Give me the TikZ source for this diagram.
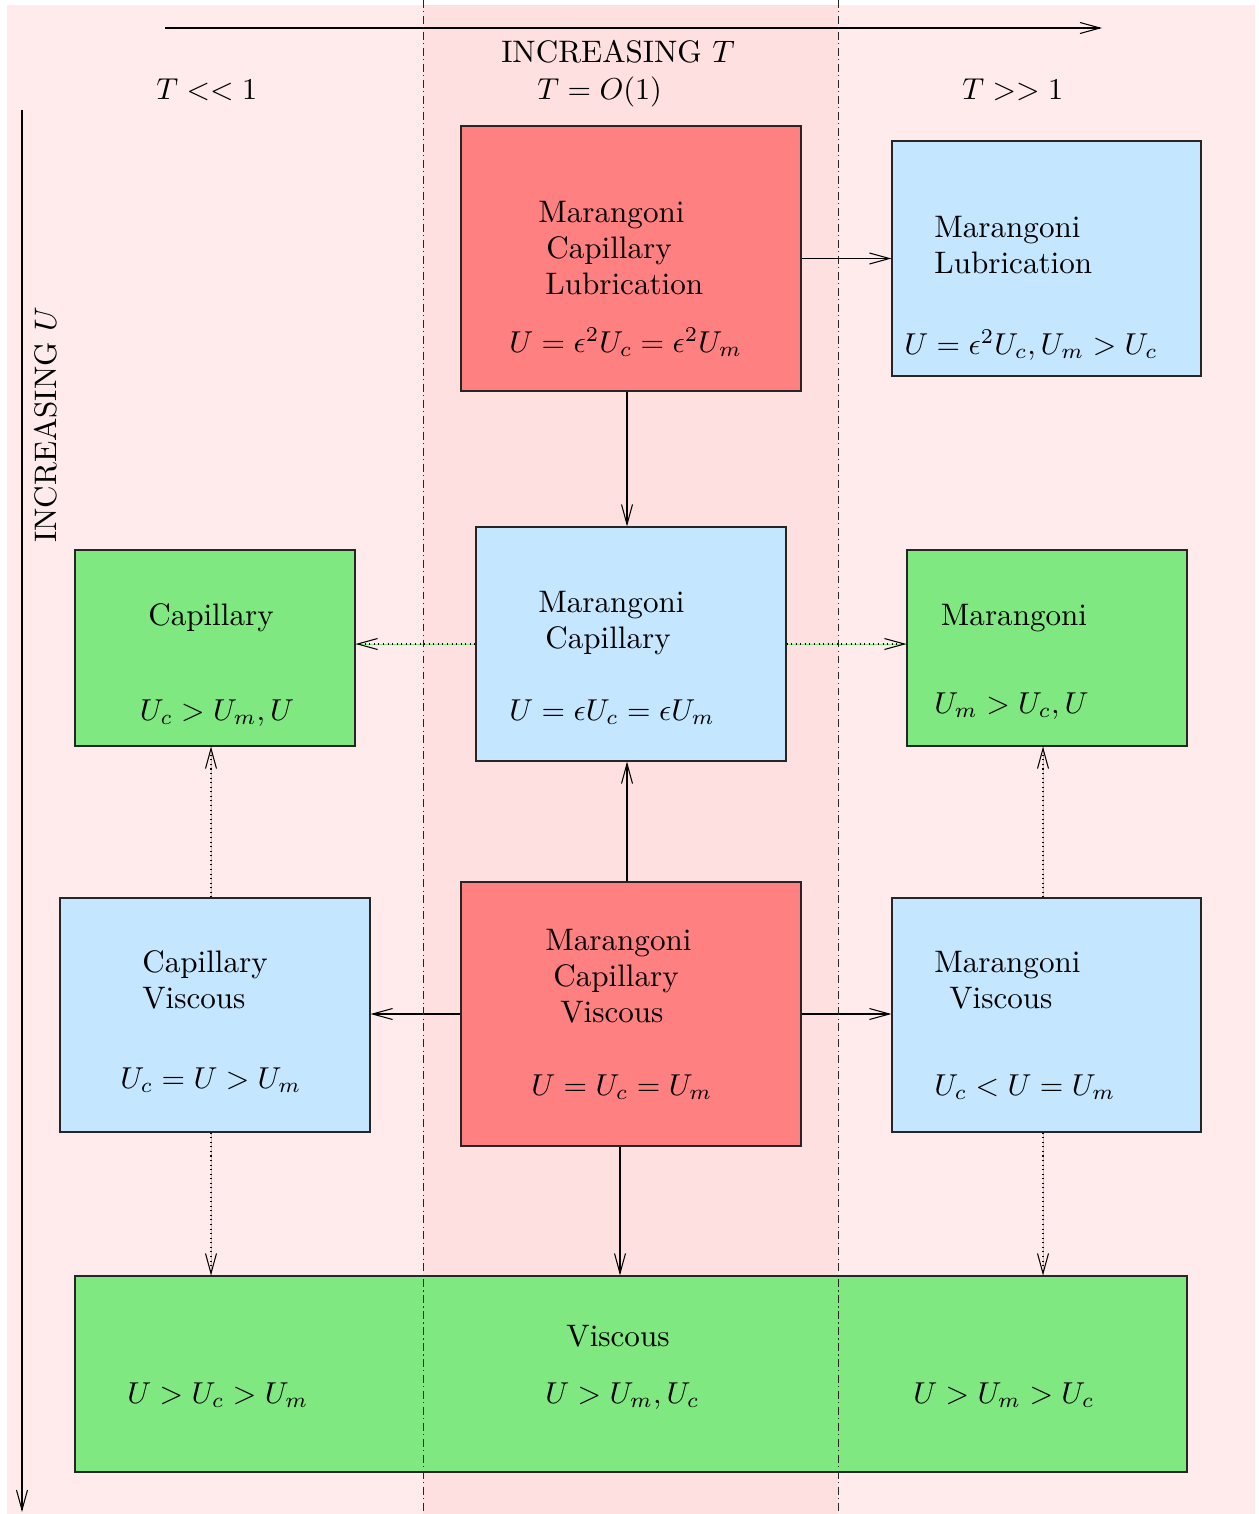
\documentclass[tikz,border=0pt]{standalone}
\usepackage{graphicx}
\usetikzlibrary{arrows.meta}
\definecolor{bgpink}{RGB}{255,235,235}
\definecolor{bandpink}{RGB}{255,224,224}
\definecolor{boxred}{RGB}{255,128,128}
\definecolor{boxblue}{RGB}{196,230,255}
\definecolor{boxgreen}{RGB}{128,232,128}
\newcommand{\bigtxt}[1]{\scalebox{1.72}{#1}}
\newcommand{\bigword}[1]{\scalebox{1.77}{#1}}
\begin{document}
\begin{tikzpicture}[x=0.02cm,y=-0.02cm,
  font=\fontsize{10}{12}\selectfont,
  regbox/.style={draw=black!85, line width=0.7pt, inner sep=0pt},
  redbox/.style={regbox, fill=boxred},
  bluebox/.style={regbox, fill=boxblue},
  greenbox/.style={regbox, fill=boxgreen},
  txt/.style={anchor=base west, inner sep=0pt},
  ctxt/.style={anchor=base, inner sep=0pt},
  arr/.style={line width=0.6pt, -{Straight Barb[length=0.4cm,width=0.22cm]}},
  dotarr/.style={arr, dotted, preaction={draw=boxgreen, solid, line width=0.5pt, -}},
  divider/.style={line width=0.5pt, black!85, dash pattern=on 4.5pt off 2pt on 0.6pt off 2pt}
]
\useasboundingbox (0,0) rectangle (1258,1514);
\fill[bgpink] (7,5) rectangle (1255,1514);
\fill[bandpink] (423,5) rectangle (838,1514);

% axes
\coordinate (tL) at (165,28);
\coordinate (tR) at (1102,28);
\draw[arr] (tL) -- (tR);
\coordinate (uT) at (22,110);
\coordinate (uB) at (22,1512);
\draw[arr] (uT) -- (uB);
\node[ctxt] (incT) at (618,63) {\bigword{INCREASING $T$}};
\node[txt] (tsmall) at (156,100) {\bigtxt{$T<<1$}};
\node[txt] (tmid) at (537,100) {\bigtxt{$T=O(1)$}};
\node[txt] (tbig) at (962,100) {\bigtxt{$T>>1$}};
\node[ctxt, rotate=90] (incU) at (56,425) {\bigword{INCREASING $U$}};

% boxes
\node[redbox, minimum width=6.8cm, minimum height=5.3cm] (MCL) at (631,258.5) {};
\node[bluebox, minimum width=6.18cm, minimum height=4.7cm] (ML) at (1046.5,258.5) {};
\node[greenbox, minimum width=5.6cm, minimum height=3.92cm] (Cap) at (215,648) {};
\node[bluebox, minimum width=6.2cm, minimum height=4.68cm] (MC) at (631,644) {};
\node[greenbox, minimum width=5.6cm, minimum height=3.92cm] (Mar) at (1047,648) {};
\node[bluebox, minimum width=6.2cm, minimum height=4.68cm] (CV) at (215,1015) {};
\node[redbox, minimum width=6.8cm, minimum height=5.28cm] (MCV) at (631,1014) {};
\node[bluebox, minimum width=6.18cm, minimum height=4.68cm] (MV) at (1046.5,1015) {};
\node[greenbox, minimum width=22.24cm, minimum height=3.92cm] (Vis) at (631,1374) {};

% texts
\node[txt] (mclA) at (538,222) {\bigword{Marangoni}};
\node[txt] (mclB) at (546,258) {\bigword{Capillary}};
\node[txt] (mclC) at (545,294) {\bigword{Lubrication}};
\node[txt] (mclF) at (509,352) {\bigtxt{$U=\epsilon^2U_c=\epsilon^2U_m$}};

\node[txt] (mlA) at (934,237) {\bigword{Marangoni}};
\node[txt] (mlB) at (934,273) {\bigword{Lubrication}};
\node[txt] (mlF) at (904,354) {\bigtxt{$U=\epsilon^2U_c,U_m>U_c$}};

\node[ctxt] (capA) at (211,625) {\bigword{Capillary}};
\node[ctxt] (capF) at (217,720) {\bigtxt{$U_c>U_m,U$}};

\node[txt] (mcA) at (538,612) {\bigword{Marangoni}};
\node[txt] (mcB) at (545,648) {\bigword{Capillary}};
\node[txt] (mcF) at (509,720) {\bigtxt{$U=\epsilon U_c=\epsilon U_m$}};

\node[ctxt] (marA) at (1014,625) {\bigword{Marangoni}};
\node[txt] (marF) at (934,713) {\bigtxt{$U_m>U_c,U$}};

\node[txt] (cvA) at (142,972) {\bigword{Capillary}};
\node[txt] (cvB) at (142,1008) {\bigword{Viscous}};
\node[txt] (cvF) at (120,1088) {\bigtxt{$U_c=U>U_m$}};

\node[txt] (mcvA) at (545,950) {\bigword{Marangoni}};
\node[txt] (mcvB) at (553,986) {\bigword{Capillary}};
\node[txt] (mcvC) at (560,1022) {\bigword{Viscous}};
\node[txt] (mcvF) at (531,1095) {\bigtxt{$U=U_c=U_m$}};

\node[txt] (mvA) at (934,972) {\bigword{Marangoni}};
\node[txt] (mvB) at (949,1008) {\bigword{Viscous}};
\node[txt] (mvF) at (934,1095) {\bigtxt{$U_c<U=U_m$}};

\node[ctxt] (visA) at (618,1346) {\bigword{Viscous}};
\node[txt] (visF1) at (127,1403) {\bigtxt{$U>U_c>U_m$}};
\node[txt] (visF2) at (545,1403) {\bigtxt{$U>U_m,U_c$}};
\node[txt] (visF3) at (913,1403) {\bigtxt{$U>U_m>U_c$}};

% connector x positions
\coordinate (cxM) at (627,0);
\coordinate (cxV) at (620,0);
\coordinate (cxL) at (211,0);
\coordinate (cxR) at (1043,0);

% solid connectors
\draw[arr] (MCL.east) -- (MCL.east -| ML.west);
\draw[arr] (MCL.south -| cxM) -- (MC.north -| cxM);
\draw[arr] (MCV.north -| cxM) -- (MC.south -| cxM);
\draw[arr] (MCV.west) -- (MCV.west -| CV.east);
\draw[arr] (MCV.east) -- (MCV.east -| MV.west);
\draw[arr] (MCV.south -| cxV) -- (Vis.north -| cxV);

% dotted connectors
\draw[dotarr] (MC.west) -- (MC.west -| Cap.east);
\draw[dotarr] (MC.east) -- (MC.east -| Mar.west);
\draw[dotarr] (CV.north -| cxL) -- (Cap.south -| cxL);
\draw[dotarr] (MV.north -| cxR) -- (Mar.south -| cxR);
\draw[dotarr] (CV.south -| cxL) -- (Vis.north -| cxL);
\draw[dotarr] (MV.south -| cxR) -- (Vis.north -| cxR);

% dividers
\coordinate (d1t) at (423,0);
\coordinate (d1b) at (423,1514);
\coordinate (d2t) at (838,0);
\coordinate (d2b) at (838,1514);
\draw[divider] (d1t) -- (d1b);
\draw[divider] (d2t) -- (d2b);
\end{tikzpicture}
\end{document}
